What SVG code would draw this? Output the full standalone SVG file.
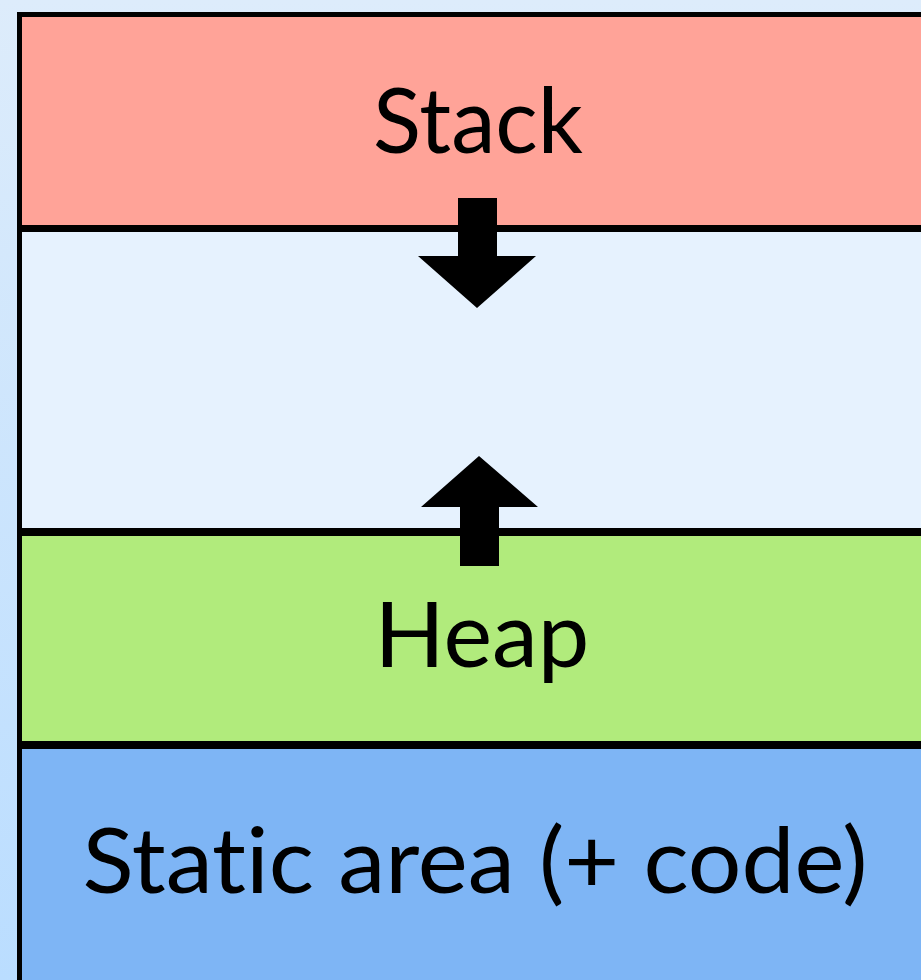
<svg xmlns="http://www.w3.org/2000/svg" width="921" height="980" viewBox="0 0 921 980">
<defs>
<linearGradient id="bg" x1="0" y1="0" x2="0" y2="1">
<stop offset="0" stop-color="#DDECFB"/>
<stop offset="1" stop-color="#BADDFF"/>
</linearGradient>
<style>
.lbl{font-family:"Lato","Noto Sans","Liberation Sans",sans-serif;font-size:92px;font-weight:400;font-variant-ligatures:none;fill:#000;text-anchor:middle}
</style>
</defs>
<rect x="0" y="0" width="921" height="980" fill="url(#bg)"/>
<g id="frame">
<rect x="17" y="12" width="904" height="968" fill="#000"/>
</g>
<g id="stack">
<rect x="22" y="17" width="899" height="208" fill="#FFA398"/>
<text class="lbl" x="478" y="153" textLength="210" lengthAdjust="spacingAndGlyphs">Stack</text>
</g>
<g id="free">
<rect x="22" y="232" width="899" height="296" fill="#E6F2FE"/>
</g>
<g id="heap">
<rect x="22" y="536" width="899" height="205" fill="#B1EB7C"/>
<text class="lbl" x="482" y="667" textLength="215" lengthAdjust="spacingAndGlyphs">Heap</text>
</g>
<g id="static">
<rect x="22" y="749" width="899" height="231" fill="#7EB5F5"/>
<text class="lbl" x="475" y="893" textLength="785" lengthAdjust="spacingAndGlyphs">Static area (+ code)</text>
</g>
<g id="connectors">
<polygon points="458,198 497,198 497,256 536,256 477,308 418,256 458,256" fill="#000"/>
<polygon points="460,566 499,566 499,507 538,507 479,456 421,507 460,507" fill="#000"/>
</g>
</svg>
